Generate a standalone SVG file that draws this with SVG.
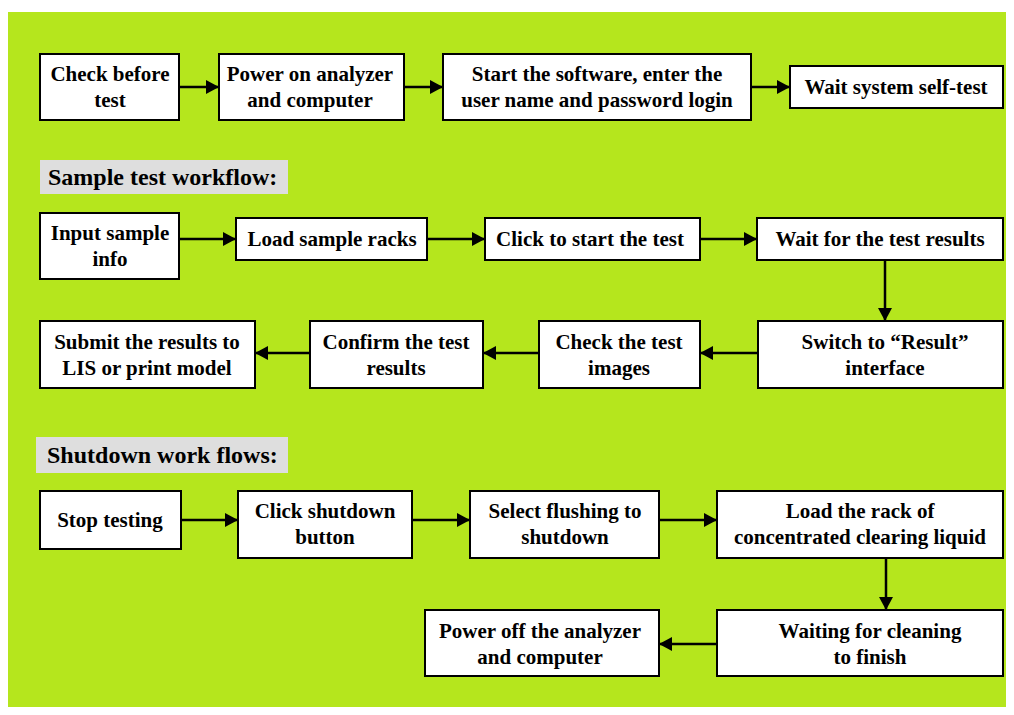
<svg xmlns="http://www.w3.org/2000/svg" width="1014" height="715" viewBox="0 0 1014 715">
<style>
.box{fill:#ffffff;stroke:#000000;stroke-width:2}
.hdr{fill:#dedede}
.t{font-family:"Liberation Serif","Times New Roman",serif;font-weight:bold;font-size:21px;fill:#000;text-anchor:middle}
.h{font-family:"Liberation Serif","Times New Roman",serif;font-weight:bold;font-size:24px;fill:#000}
.c{stroke:#000;stroke-width:2.5;fill:none;marker-end:url(#arr)}
</style>
<defs>
<marker id="arr" markerUnits="userSpaceOnUse" markerWidth="14" markerHeight="14" refX="13" refY="7" orient="auto">
<path d="M0,0 L13,7 L0,14 Z" fill="#000"/>
</marker>
</defs>
<rect x="0" y="0" width="1014" height="715" fill="#ffffff"/>
<rect x="8" y="12" width="998" height="695" fill="#b5e61d"/>

<g id="heading-sample">
<rect class="hdr" x="40" y="160" width="248" height="34"/>
<text class="h" x="48" y="185">Sample test workflow:</text>
</g>
<g id="heading-shutdown">
<rect class="hdr" x="36" y="437" width="252" height="36"/>
<text class="h" x="47" y="463">Shutdown work flows:</text>
</g>

<g id="connectors">
<line class="c" x1="180" y1="87" x2="219" y2="87"/>
<line class="c" x1="404" y1="87" x2="443" y2="87"/>
<line class="c" x1="751" y1="87" x2="790" y2="87"/>

<line class="c" x1="179" y1="239" x2="236" y2="239"/>
<line class="c" x1="427" y1="239" x2="485" y2="239"/>
<line class="c" x1="700" y1="239" x2="757" y2="239"/>
<line class="c" x1="885" y1="260" x2="885" y2="321"/>
<line class="c" x1="758" y1="353" x2="700" y2="353"/>
<line class="c" x1="539" y1="353" x2="483" y2="353"/>
<line class="c" x1="310" y1="353" x2="255" y2="353"/>

<line class="c" x1="181" y1="520" x2="238" y2="520"/>
<line class="c" x1="412" y1="520" x2="470" y2="520"/>
<line class="c" x1="659" y1="520" x2="717" y2="520"/>
<line class="c" x1="886" y1="558" x2="886" y2="610"/>
<line class="c" x1="717" y1="644" x2="659" y2="644"/>
</g>

<g id="n-check">
<rect class="box" x="40" y="54" width="139" height="66"/>
<text class="t" x="110" y="81">Check before</text>
<text class="t" x="110" y="107">test</text>
</g>
<g id="n-poweron">
<rect class="box" x="219" y="54" width="185" height="66"/>
<text class="t" x="310" y="81">Power on analyzer</text>
<text class="t" x="310" y="107">and computer</text>
</g>
<g id="n-start">
<rect class="box" x="443" y="54" width="308" height="66"/>
<text class="t" x="597" y="81">Start the software, enter the</text>
<text class="t" x="597" y="107">user name and password login</text>
</g>
<g id="n-wait">
<rect class="box" x="790" y="66" width="213" height="42"/>
<text class="t" x="896" y="94">Wait system self-test</text>
</g>

<g id="n-input">
<rect class="box" x="40" y="213" width="139" height="66"/>
<text class="t" x="110" y="240">Input sample</text>
<text class="t" x="110" y="266">info</text>
</g>
<g id="n-load">
<rect class="box" x="236" y="218" width="191" height="42"/>
<text class="t" x="332" y="246">Load sample racks</text>
</g>
<g id="n-click">
<rect class="box" x="485" y="218" width="215" height="42"/>
<text class="t" x="590" y="246">Click to start the test</text>
</g>
<g id="n-waitres">
<rect class="box" x="757" y="218" width="246" height="42"/>
<text class="t" x="880" y="246">Wait for the test results</text>
</g>
<g id="n-switch">
<rect class="box" x="758" y="321" width="245" height="67"/>
<text class="t" x="885" y="349">Switch to “Result”</text>
<text class="t" x="885" y="375">interface</text>
</g>
<g id="n-images">
<rect class="box" x="539" y="321" width="161" height="67"/>
<text class="t" x="619" y="349">Check the test</text>
<text class="t" x="619" y="375">images</text>
</g>
<g id="n-confirm">
<rect class="box" x="310" y="321" width="173" height="67"/>
<text class="t" x="396" y="349">Confirm the test</text>
<text class="t" x="396" y="375">results</text>
</g>
<g id="n-submit">
<rect class="box" x="40" y="321" width="215" height="67"/>
<text class="t" x="147" y="349">Submit the results to</text>
<text class="t" x="147" y="375">LIS or print model</text>
</g>

<g id="n-stop">
<rect class="box" x="40" y="491" width="141" height="58"/>
<text class="t" x="110" y="527">Stop testing</text>
</g>
<g id="n-shutdown">
<rect class="box" x="238" y="491" width="174" height="67"/>
<text class="t" x="325" y="518">Click shutdown</text>
<text class="t" x="325" y="544">button</text>
</g>
<g id="n-flush">
<rect class="box" x="470" y="491" width="189" height="67"/>
<text class="t" x="565" y="518">Select flushing to</text>
<text class="t" x="565" y="544">shutdown</text>
</g>
<g id="n-rack">
<rect class="box" x="717" y="491" width="286" height="67"/>
<text class="t" x="860" y="518">Load the rack of</text>
<text class="t" x="860" y="544">concentrated clearing liquid</text>
</g>
<g id="n-cleaning">
<rect class="box" x="717" y="610" width="286" height="66"/>
<text class="t" x="870" y="638">Waiting for cleaning</text>
<text class="t" x="870" y="664">to finish</text>
</g>
<g id="n-poweroff">
<rect class="box" x="425" y="610" width="234" height="66"/>
<text class="t" x="540" y="638">Power off the analyzer</text>
<text class="t" x="540" y="664">and computer</text>
</g>
</svg>
